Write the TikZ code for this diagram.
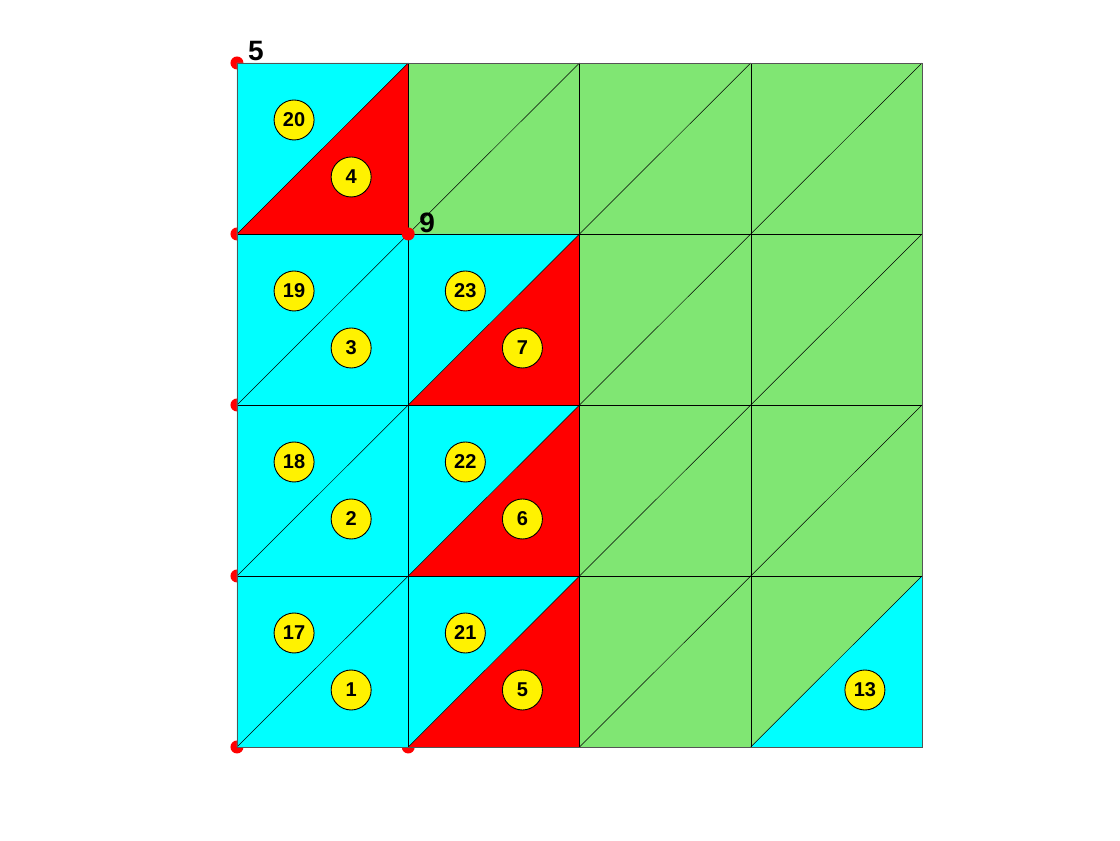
\documentclass[tikz,border=0pt]{standalone}
\usepackage{fontspec}
\setmainfont{Liberation Sans}
\usepackage{tikz}
\usetikzlibrary{calc}
\definecolor{meshgreen}{HTML}{80E673}
\definecolor{meshcyan}{HTML}{00FFFF}
\definecolor{meshred}{HTML}{FF0000}
\definecolor{edgegrey}{HTML}{555555}
% lower right / upper left triangle of cell (i,j)
\newcommand{\lowtri}[3]{\fill[#3] (#1,#2) -- ++(1,0) -- ++(0,1) -- cycle;}
\newcommand{\uptri}[3]{\fill[#3] (#1,#2) -- ++(1,1) -- ++(-1,0) -- cycle;}

\begin{document}
\begin{tikzpicture}[
  x=171.25pt,y=171pt,
  every node/.style={font=\bfseries},
  num/.style={circle,draw=black,fill=yellow,line width=0.9pt,minimum size=40pt,inner sep=0pt,
    font=\fontsize{20}{22}\selectfont\bfseries},
  vtx/.style={circle,fill=red,minimum size=13pt,inner sep=0pt},
  vlab/.style={anchor=base west,inner sep=0pt,font=\fontsize{28}{30}\selectfont\bfseries},
  mesh/.style={draw=black,line width=0.5pt}
]
\useasboundingbox (-1.3839,-0.5439) rectangle (5.1562,4.3684);
% boundary vertices (under the patches)
\foreach \j [count=\k] in {4,3,2,1,0}
  \node[vtx] (b\k) at (0,\j) {};
\node[vtx] (b6) at (1,0) {};
% patches
\fill[meshgreen] (0,0) rectangle (4,4);
\foreach \j in {0,1,2,3} {\lowtri{0}{\j}{meshcyan} \uptri{0}{\j}{meshcyan}}
\lowtri{0}{3}{meshred}
\foreach \j in {0,1,2} {\lowtri{1}{\j}{meshred} \uptri{1}{\j}{meshcyan}}
\lowtri{3}{0}{meshcyan}
% edges
\foreach \t in {1,2,3} {
  \draw[mesh] (\t,0) -- (\t,4);
  \draw[mesh] (0,\t) -- (4,\t);
}
\foreach \i in {0,1,2,3}
  \foreach \j in {0,1,2,3}
    \draw[mesh] (\i,\j) -- ++(1,1);
\draw[draw=edgegrey,line width=0.8pt] (0,0) rectangle (4,4);
% element numbers
\foreach \j in {0,1,2,3} {
  \pgfmathtruncatemacro{\lo}{\j+1}
  \pgfmathtruncatemacro{\up}{\j+17}
  \node[num] (e\lo) at (2/3,\j+1/3) {\lo};
  \node[num] (e\up) at (1/3,\j+2/3) {\up};
}
\foreach \j in {0,1,2} {
  \pgfmathtruncatemacro{\lo}{\j+5}
  \pgfmathtruncatemacro{\up}{\j+21}
  \node[num] (e\lo) at (1+2/3,\j+1/3) {\lo};
  \node[num] (e\up) at (1+1/3,\j+2/3) {\up};
}
\node[num] (e13) at (3+2/3,1/3) {13};
% labelled vertices
\node[vtx] (v9) at (1,3) {};
\node[vlab] (l5) at ([xshift=11pt,yshift=2pt]b1.center) {5};
\node[vlab] (l9) at ([xshift=11pt,yshift=1pt]v9.center) {9};
\end{tikzpicture}
\end{document}
